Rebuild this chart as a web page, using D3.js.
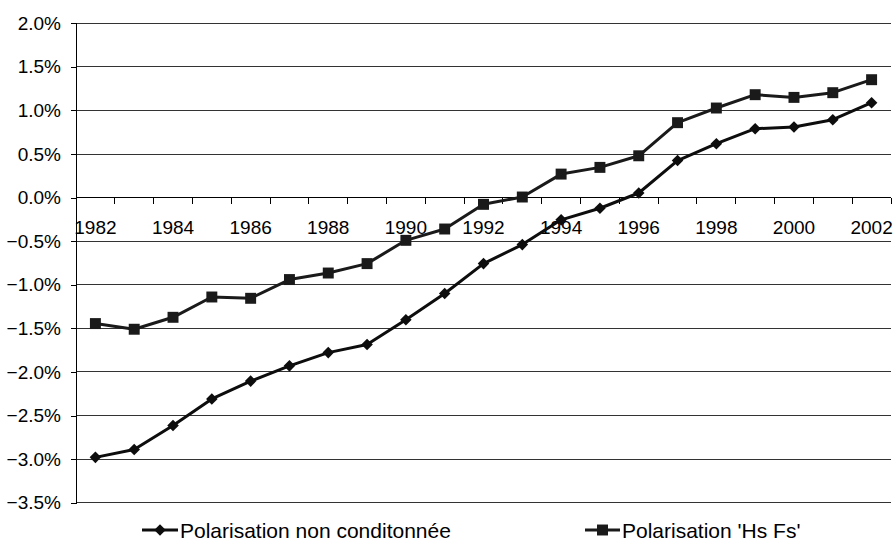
<!DOCTYPE html>
<html>
<head>
<meta charset="utf-8">
<script src="https://cdn.jsdelivr.net/npm/d3@7"></script>
<style>
  html, body { margin: 0; padding: 0; background: #fff; }
  svg { display: block; font-family: Arial, "Liberation Sans", sans-serif; }
</style>
</head>
<body>
<svg id="chart" width="893" height="545"></svg>
<script>
// ---- data ----
const years = [1982,1983,1984,1985,1986,1987,1988,1989,1990,1991,1992,1993,1994,1995,1996,1997,1998,1999,2000,2001,2002];
const seriesNames = ["Polarisation non conditonnée", "Polarisation 'Hs Fs'"];
const polarNonCond = [-2.98,-2.89,-2.615,-2.31,-2.105,-1.93,-1.778,-1.686,-1.40,-1.10,-0.757,-0.539,-0.255,-0.122,0.053,0.425,0.619,0.791,0.81,0.894,1.089];
const polarHsFs = [-1.445,-1.51,-1.373,-1.14,-1.155,-0.94,-0.865,-0.757,-0.49,-0.36,-0.077,0.007,0.27,0.347,0.48,0.86,1.028,1.181,1.15,1.204,1.353];
const yTicks = [2.0,1.5,1.0,0.5,0.0,-0.5,-1.0,-1.5,-2.0,-2.5,-3.0,-3.5];
const xTickLabels = [1982,1984,1986,1988,1990,1992,1994,1996,1998,2000,2002];

// ---- layout ----
const svg = d3.select("#chart");
const plotL = 76, plotR = 891, plotT = 23.3, plotB = 502.7;
const x = d3.scaleBand().domain(years).range([plotL, plotR]).padding(0);
const y = d3.scaleLinear().domain([-3.5, 2.0]).range([plotB, plotT]);
const cx = d => x(d) + x.bandwidth() / 2;
const ink = "#0d0d0d";
const ink2 = "#1a1a1a";

// gridlines
svg.append("g").selectAll("line").data(yTicks).join("line")
  .attr("x1", plotL).attr("x2", plotR)
  .attr("y1", d => y(d)).attr("y2", d => y(d))
  .attr("stroke", "#333").attr("stroke-width", 1).attr("shape-rendering", "crispEdges");

// y axis
const yAxis = d3.axisLeft(y).tickValues(yTicks).tickSize(5).tickPadding(10)
  .tickFormat(d => d3.format(".1f")(d) + "%");
const gy = svg.append("g").attr("transform", `translate(${plotL},0)`).call(yAxis);
gy.select(".domain").attr("stroke", "#000").attr("shape-rendering", "crispEdges");
gy.selectAll(".tick line").attr("stroke", "#000").attr("shape-rendering", "crispEdges");
gy.selectAll("text").attr("font-size", 19).attr("fill", "#000")
  .attr("font-family", "Arial, 'Liberation Sans', sans-serif");

// x axis at 0%
const y0 = y(0);
svg.append("line").attr("x1", plotL).attr("x2", plotR).attr("y1", y0).attr("y2", y0)
  .attr("stroke", "#000").attr("shape-rendering", "crispEdges");
const bounds = years.map(d => x(d)).concat([plotR]);
svg.append("g").selectAll("line").data(bounds).join("line")
  .attr("x1", d => d).attr("x2", d => d).attr("y1", y0).attr("y2", y0 + 6)
  .attr("stroke", "#000").attr("shape-rendering", "crispEdges");
svg.append("g").selectAll("text").data(xTickLabels).join("text")
  .attr("x", d => cx(d)).attr("y", y0 + 36)
  .attr("text-anchor", "middle").attr("font-size", 19).attr("fill", "#000")
  .text(d => d);

// lines
const data1 = years.map((yr, i) => ({yr, v: polarNonCond[i]}));
const data2 = years.map((yr, i) => ({yr, v: polarHsFs[i]}));
const line = d3.line().x(d => cx(d.yr)).y(d => y(d.v));

svg.append("path").datum(data1).attr("d", line)
  .attr("fill", "none").attr("stroke", ink).attr("stroke-width", 3).attr("stroke-linejoin", "round");
svg.append("path").datum(data2).attr("d", line)
  .attr("fill", "none").attr("stroke", ink2).attr("stroke-width", 3).attr("stroke-linejoin", "round");

const diamond = d3.symbol().type(d3.symbolDiamond2).size(85);
const square = d3.symbol().type(d3.symbolSquare).size(120);

svg.append("g").selectAll("path").data(data1).join("path")
  .attr("transform", d => `translate(${cx(d.yr)},${y(d.v)})`)
  .attr("d", diamond).attr("fill", ink);
svg.append("g").selectAll("path").data(data2).join("path")
  .attr("transform", d => `translate(${cx(d.yr)},${y(d.v)})`)
  .attr("d", square).attr("fill", ink2);

// legend
const legY = 530;
const leg = [
  {x0: 142, x1: 178, name: seriesNames[0], sym: diamond, col: ink},
  {x0: 585, x1: 620, name: seriesNames[1], sym: square, col: ink2}
];
const lg = svg.append("g").selectAll("g").data(leg).join("g");
lg.append("line").attr("x1", d => d.x0).attr("x2", d => d.x1)
  .attr("y1", legY).attr("y2", legY).attr("stroke", d => d.col).attr("stroke-width", 3);
lg.append("path").attr("transform", d => `translate(${(d.x0 + d.x1) / 2},${legY})`)
  .attr("d", d => d.sym()).attr("fill", d => d.col);
lg.append("text").attr("x", d => d.x1 + 2).attr("y", legY + 7.5)
  .attr("font-size", 21).attr("fill", "#000").text(d => d.name);
</script>
</body>
</html>
